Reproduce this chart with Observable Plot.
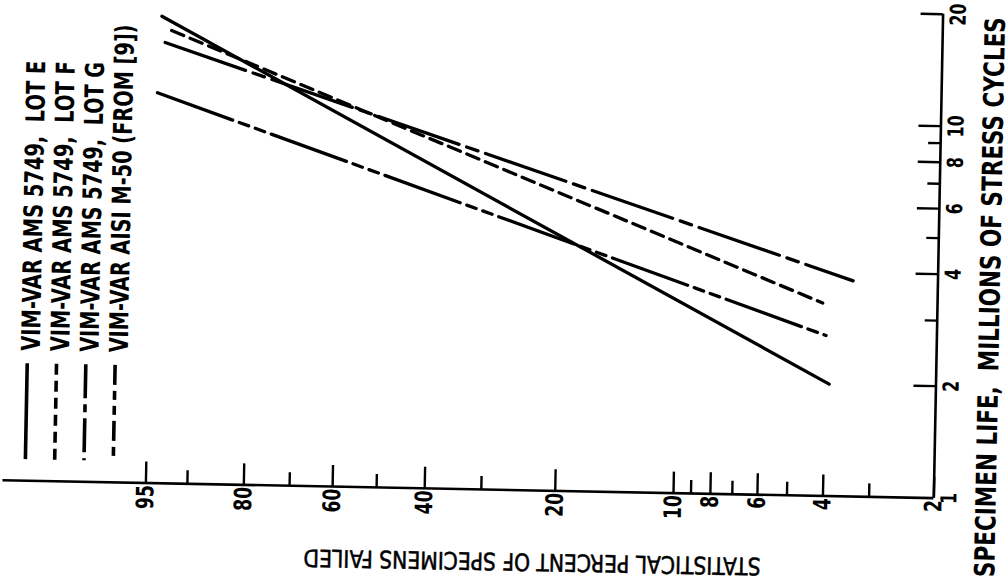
<!DOCTYPE html>
<html>
<head>
<meta charset="utf-8">
<script src="https://cdn.jsdelivr.net/npm/d3@7"></script>
<script src="https://cdn.jsdelivr.net/npm/@observablehq/plot@0.6"></script>
<style>
  html, body { margin: 0; padding: 0; background: #fff; overflow: hidden; }
  #chart svg { display: block; overflow: visible !important; transform: rotate(1.1deg); transform-origin: 540px 250px; }
</style>
</head>
<body>
<div id="chart"></div>
<script>
// ---- data ----
const seriesKeys = ["E", "F", "G", "M50"];
const seriesNames = [
  "VIM-VAR AMS 5749,\u00a0 LOT E",
  "VIM-VAR AMS 5749,\u00a0 LOT F",
  "VIM-VAR AMS 5749,\u00a0 LOT G",
  "VIM-VAR AISI M-50 (FROM [9])"
];
// statistical percent failed at the two ends of each Weibull line
const startPercent = [94.3, 93.2, 93.9, 94.6];
const endPercent   = [3.9, 4.1, 3.4, 4.0];
// specimen life, millions of stress cycles, at those ends
const startLife = [18.0, 16.5, 15.3, 11.2];
const endLife   = [2.0, 3.3, 3.8, 2.7];

const xMajorTicks = [95, 80, 60, 40, 20, 10, 8, 6, 4, 2];
const xMinorTicks = [90, 70, 50, 30, 9, 7, 5, 3];
const yMajorTicks = [20, 10, 8, 6, 4, 2];
const yMinorTicks = [9, 7, 5, 3];
const yTickLabels = [20, 10, 8, 6, 4, 2, 1];
const xDomainPercent = [99.94, 2];
const yDomain = [1, 20];

const xTitle = "STATISTICAL PERCENT OF SPECIMENS FAILED";
const yTitle = "SPECIMEN LIFE,\u00a0 MILLIONS OF STRESS CYCLES";

// ---- styles ----
const dashes = ["none", "13,7", "85,8,12,8", "80,7,10,7,10,7"];
const legendDashes = ["none", "11,6", "34,6,8,6", "20,6,9,6,9,6"];
const font = "'DejaVu Sans Condensed', 'DejaVu Sans', sans-serif";
const legendLengths = [290, 290, 290, 328];
const titleLengths = {x: 457, y: 560};
const numberSquash = 0.8;

// Weibull probability transform
const weib = p => Math.log(-Math.log(1 - p / 100));

const lineRows = seriesKeys.flatMap((k, i) => [
  {key: k, p: startPercent[i], life: startLife[i]},
  {key: k, p: endPercent[i], life: endLife[i]}
]);

const W = 1008, H = 587;
const mL = 7, mR = 70, mT = 6, mB = 97;
const frameH = H - mT - mB, frameW = W - mL - mR;

const legendMark = () => {
  const g = d3.create("svg:g").attr("fill", "none").attr("stroke", "#000")
    .attr("stroke-width", 3.6);
  seriesKeys.forEach((k, i) => {
    const x = mL + 22.5 + i * 29.3;
    g.append("line").attr("x1", x).attr("x2", x)
      .attr("y1", 373).attr("y2", 469)
      .attr("stroke-dasharray", legendDashes[i]);
  });
  return g.node();
};

const plot = Plot.plot({
  width: W, height: H,
  marginLeft: mL, marginRight: mR, marginTop: mT, marginBottom: mB,
  style: {background: "#fff", color: "#000", overflow: "visible"},
  x: {type: "linear", domain: xDomainPercent.map(weib), axis: null},
  y: {type: "log", domain: yDomain, axis: null},
  marks: [
    // frame: baseline and right axis
    Plot.ruleY([yDomain[0]], {stroke: "#000", strokeWidth: 2.6}),
    Plot.ruleX([weib(xDomainPercent[1])], {stroke: "#000", strokeWidth: 2.6}),
    // x ticks pointing up
    Plot.ruleX(xMajorTicks, {x: weib, insetTop: frameH - 21, stroke: "#000", strokeWidth: 2.4}),
    Plot.ruleX(xMinorTicks, {x: weib, insetTop: frameH - 13, stroke: "#000", strokeWidth: 2.4}),
    // y ticks pointing left
    Plot.ruleY(yMajorTicks, {y: d => d, insetLeft: frameW - 22, stroke: "#000", strokeWidth: 2.4}),
    Plot.ruleY(yMinorTicks, {y: d => d, insetLeft: frameW - 12, stroke: "#000", strokeWidth: 2.4}),
    // x tick labels
    Plot.text(xMajorTicks, {x: weib, frameAnchor: "bottom", dy: 2, rotate: -90,
      textAnchor: "end", lineAnchor: "middle", text: d => String(d),
      fontSize: 24, fontWeight: "bold", fontFamily: font, fill: "#000"}),
    // y tick labels
    Plot.text(yTickLabels, {y: d => d, frameAnchor: "right", dx: 7, rotate: -90,
      textAnchor: "middle", lineAnchor: "top", text: d => String(d),
      fontSize: 22, fontWeight: "bold", fontFamily: font, fill: "#000"}),
    // titles
    Plot.text([xTitle], {frameAnchor: "bottom", dx: 65, dy: 71, rotate: 180,
      textAnchor: "middle", lineAnchor: "middle", fontSize: 24, fontFamily: font,
      fill: "#000", stroke: "#000", strokeWidth: 0.5}),
    Plot.text([yTitle], {frameAnchor: "right", dx: 53, dy: 40, rotate: -90,
      textAnchor: "middle", lineAnchor: "middle", fontSize: 28, fontWeight: "bold", fontFamily: font, fill: "#000"}),
    // data lines
    ...seriesKeys.map((k, i) => Plot.line(lineRows.filter(d => d.key === k), {
      x: d => weib(d.p), y: "life", stroke: "#000", strokeWidth: 3.3,
      strokeDasharray: dashes[i], strokeLinecap: "round"
    })),
    // legend
    ...seriesNames.map((n, i) => Plot.text([n], {frameAnchor: "bottom-left",
      dx: 26 + i * 29.3, dy: -130, rotate: -90, textAnchor: "start", lineAnchor: "middle",
      fontSize: 26, fontWeight: "bold", fontFamily: font, fill: "#000"})),
    legendMark
  ]
});
document.getElementById("chart").appendChild(plot);

// condense the lettering like the hand-lettered original
const targetLengths = new Map([
  ...seriesNames.map((n, i) => [n, legendLengths[i]]),
  [xTitle, titleLengths.x],
  [yTitle, titleLengths.y]
]);
d3.select(plot).selectAll("text").each(function () {
  const t = this.textContent;
  let L = targetLengths.get(t);
  if (L === undefined && /^\d+$/.test(t)) L = this.getComputedTextLength() * numberSquash;
  if (L !== undefined) {
    this.setAttribute("textLength", L);
    this.setAttribute("lengthAdjust", "spacingAndGlyphs");
  }
});
</script>
</body>
</html>
